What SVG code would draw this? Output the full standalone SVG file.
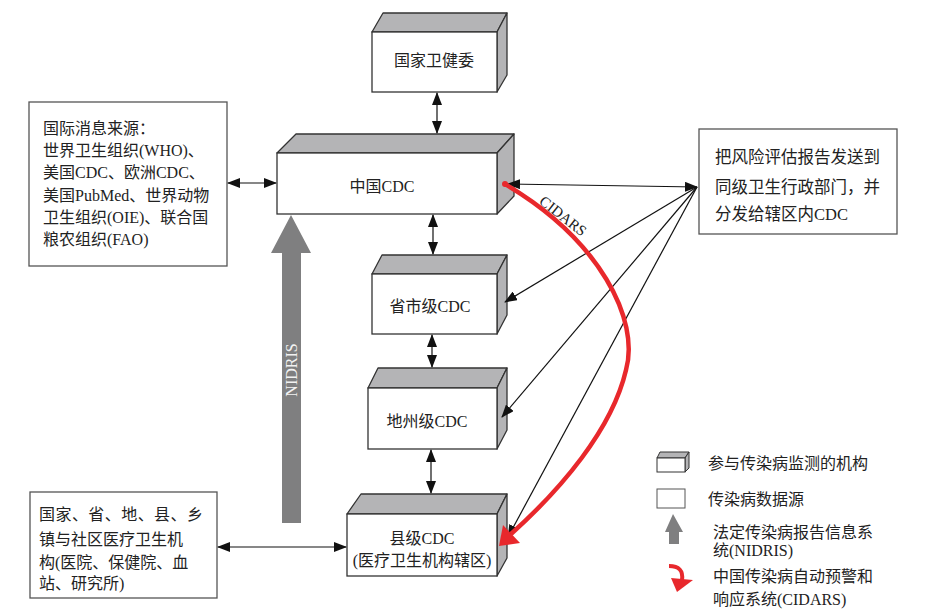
<svg xmlns="http://www.w3.org/2000/svg" width="931" height="611" viewBox="0 0 931 611">
<style>
.t{font-family:"Liberation Serif","Noto Sans CJK SC",serif;font-size:16px;fill:#222}
.c{text-anchor:middle}
.front{fill:#fff;stroke:#333;stroke-width:1.3}
.side{fill:#b4b4b6;stroke:#333;stroke-width:1.3;stroke-linejoin:round}
.box{fill:#fff;stroke:#555;stroke-width:1.3}
.ln{stroke:#111;stroke-width:1.2;fill:none}
.red{stroke:#e8282c;stroke-width:4.5;fill:none}
</style>
<defs>
<marker id="ah" markerUnits="userSpaceOnUse" markerWidth="14" markerHeight="10" refX="12" refY="5" orient="auto-start-reverse">
<path d="M0,0 L13,5 L0,10 Z" fill="#111"/>
</marker>
</defs>
<rect width="931" height="611" fill="#fff"/>

<g id="nhc">
<polygon class="side" points="372,32 383,13 507,13 497,32"/>
<polygon class="side" points="497,32 507,13 507,75 497,92"/>
<rect class="front" x="372" y="32" width="125" height="60"/>
<text class="t c" x="434" y="66">国家卫健委</text>
</g>

<g id="china-cdc">
<polygon class="side" points="277,153 296,134 514,134 497,153"/>
<polygon class="side" points="497,153 514,134 514,196 497,214"/>
<rect class="front" x="277" y="153" width="220" height="61"/>
<text class="t c" x="382" y="192">中国CDC</text>
</g>

<g id="prov-cdc">
<polygon class="side" points="372,274 382,255 507,255 497,274"/>
<polygon class="side" points="497,274 507,255 507,315 497,334"/>
<rect class="front" x="372" y="274" width="125" height="60"/>
<text class="t c" x="430" y="312">省市级CDC</text>
</g>

<g id="pref-cdc">
<polygon class="side" points="368,388 378,368 507,368 497,388"/>
<polygon class="side" points="497,388 507,368 507,430 497,449"/>
<rect class="front" x="368" y="388" width="129" height="61"/>
<text class="t c" x="427" y="427">地州级CDC</text>
</g>

<g id="county-cdc">
<polygon class="side" points="347,514 361,494 507,494 497,514"/>
<polygon class="side" points="497,514 507,494 507,558 497,576"/>
<rect class="front" x="347" y="514" width="150" height="62"/>
<text class="t c" x="422" y="544">县级CDC</text>
<text class="t c" x="422" y="566">(医疗卫生机构辖区)</text>
</g>

<g id="intl-sources">
<rect class="box" x="29" y="102" width="198" height="164"/>
<text class="t" x="43" y="134">国际消息来源：</text>
<text class="t" x="43" y="156">世界卫生组织(WHO)、</text>
<text class="t" x="43" y="178">美国CDC、欧洲CDC、</text>
<text class="t" x="43" y="201">美国PubMed、世界动物</text>
<text class="t" x="43" y="223">卫生组织(OIE)、联合国</text>
<text class="t" x="43" y="245">粮农组织(FAO)</text>
</g>

<g id="risk-report">
<rect class="box" x="699" y="129" width="198" height="105"/>
<text class="t" x="715" y="163" style="font-size:16.5px">把风险评估报告发送到</text>
<text class="t" x="715" y="193" style="font-size:16.5px">同级卫生行政部门，并</text>
<text class="t" x="715" y="220" style="font-size:16.5px">分发给辖区内CDC</text>
</g>

<g id="local-institutions">
<rect class="box" x="30" y="492" width="187" height="106"/>
<text class="t" x="39" y="520" textLength="164">国家、省、地、县、乡</text>
<text class="t" x="39" y="545">镇与社区医疗卫生机</text>
<text class="t" x="39" y="568">构(医院、保健院、血</text>
<text class="t" x="39" y="589">站、研究所)</text>
</g>

<g id="nidris">
<polygon points="291,215 311,253 301,253 301,523 282,523 282,253 271,253" fill="#7f7f80"/>
<text class="t c" transform="translate(297,370) rotate(-90)" style="fill:#f2f2f2;font-size:16px">NIDRIS</text>
</g>

<g id="connectors">
<line class="ln" x1="437" y1="93" x2="437" y2="133" marker-start="url(#ah)" marker-end="url(#ah)"/>
<line class="ln" x1="433" y1="215" x2="433" y2="254" marker-start="url(#ah)" marker-end="url(#ah)"/>
<line class="ln" x1="432" y1="335" x2="432" y2="367" marker-start="url(#ah)" marker-end="url(#ah)"/>
<line class="ln" x1="431" y1="450" x2="431" y2="493" marker-start="url(#ah)" marker-end="url(#ah)"/>
<line class="ln" x1="228" y1="183" x2="276" y2="183" marker-start="url(#ah)" marker-end="url(#ah)"/>
<line class="ln" x1="218" y1="547" x2="346" y2="547" marker-start="url(#ah)" marker-end="url(#ah)"/>
<line class="ln" x1="508" y1="184" x2="697" y2="187" marker-start="url(#ah)" marker-end="url(#ah)"/>
<line class="ln" x1="697" y1="187" x2="505" y2="302" marker-end="url(#ah)"/>
<line class="ln" x1="697" y1="187" x2="502" y2="417" marker-end="url(#ah)"/>
<line class="ln" x1="697" y1="187" x2="508" y2="537" marker-end="url(#ah)"/>
</g>

<g id="cidars">
<path class="red" d="M505,184 C600,240 640,320 626,370 C612,430 560,490 511,534"/>
<polygon points="499,546 503,525 520,543" fill="#e8282c"/>
<circle cx="505" cy="184" r="3" fill="#e8282c"/>
<text class="t c" transform="translate(560,220) rotate(38)" style="font-size:15px">CIDARS</text>
</g>

<g id="legend">
<polygon class="side" points="657,458 660,452 689,452 685,458" style="stroke-width:1"/>
<polygon class="side" points="685,458 689,452 689,468 685,472" style="stroke-width:1"/>
<rect class="front" x="657" y="458" width="28" height="14" style="stroke-width:1"/>
<text class="t" x="708" y="469">参与传染病监测的机构</text>
<rect class="box" x="657" y="489" width="28" height="19" style="stroke-width:1"/>
<text class="t" x="708" y="505">传染病数据源</text>
<polygon points="673,514 683,532 679,532 679,544 669,544 669,532 665,532" fill="#7f7f80"/>
<text class="t" x="713" y="538">法定传染病报告信息系</text>
<text class="t" x="713" y="556">统(NIDRIS)</text>
<path class="red" d="M669,566 Q684,566 682,580" style="stroke-width:4"/>
<polygon points="671,578 693,580 677,592" fill="#e8282c"/>
<text class="t" x="713" y="582">中国传染病自动预警和</text>
<text class="t" x="713" y="605">响应系统(CIDARS)</text>
</g>
</svg>
